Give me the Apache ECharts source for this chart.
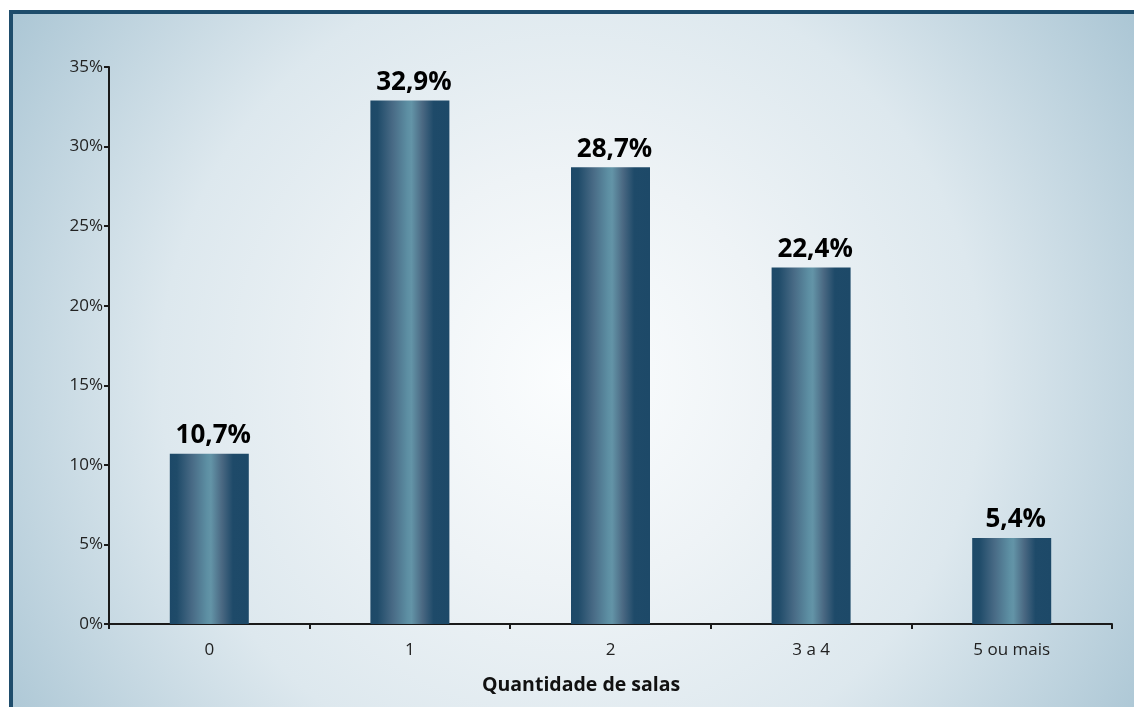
<!DOCTYPE html>
<html>
<head>
<meta charset="utf-8">
<script src="https://cdn.jsdelivr.net/npm/echarts@6/dist/echarts.min.js"></script>
<style>
  html, body { margin: 0; padding: 0; width: 1134px; height: 707px; overflow: hidden; background: #ffffff; }
  #frame {
    position: absolute; left: 9px; top: 10px; width: 1140px; height: 710px;
    border-top: 4px solid #1f4d6c; border-left: 4px solid #1f4d6c;
    background: radial-gradient(circle farthest-corner at 49% 51%, #fbfdfe 0%, #eef3f6 30%, #dde8ee 60%, #a8c4d3 100%);
  }
  #chart { position: absolute; left: 0; top: 0; width: 1134px; height: 707px; }
</style>
</head>
<body>
<div id="frame"></div>
<div id="chart"></div>
<script>
// Share of units by number of rooms
const categories = ['0', '1', '2', '3 a 4', '5 ou mais'];
const shares = [10.7, 32.9, 28.7, 22.4, 5.4];
const axisTitle = 'Quantidade de salas';

const barFill = new echarts.graphic.LinearGradient(0, 0, 1, 0, [
  { offset: 0.00, color: '#1d4968' },
  { offset: 0.09, color: '#1f4b69' },
  { offset: 0.28, color: '#486a85' },
  { offset: 0.47, color: '#5d8fa3' },
  { offset: 0.52, color: '#6394a7' },
  { offset: 0.66, color: '#4a6882' },
  { offset: 0.80, color: '#1e4a69' },
  { offset: 1.00, color: '#1d4968' }
]);

const fmt = v => String(v).replace('.', ',') + '%';

const chart = echarts.init(document.getElementById('chart'), null, { renderer: 'canvas' });
chart.setOption({
  backgroundColor: 'transparent',
  animation: false,
  textStyle: { fontFamily: '"Open Sans", "Noto Sans", sans-serif' },
  title: {
    text: axisTitle,
    left: 477, top: 670,
    textStyle: { fontSize: 19.5, fontWeight: 'bold', color: '#111', fontFamily: '"Open Sans", sans-serif' }
  },
  grid: { left: 109, right: 22, top: 67, bottom: 83, containLabel: false },
  xAxis: {
    type: 'category',
    data: categories,
    axisLine: { lineStyle: { color: '#1a1a1a', width: 2 } },
    axisTick: { show: true, length: 5, lineStyle: { color: '#1a1a1a', width: 2 } },
    axisLabel: { color: '#222', fontSize: 17, margin: 18 }
  },
  yAxis: {
    type: 'value',
    min: 0, max: 35, interval: 5,
    splitLine: { show: false },
    axisLine: { show: true, lineStyle: { color: '#1a1a1a', width: 2 } },
    axisTick: { show: true, length: 5, lineStyle: { color: '#1a1a1a', width: 2 } },
    axisLabel: { color: '#222', fontSize: 17, margin: 6, formatter: '{value}%' }
  },
  series: [{
    type: 'bar',
    data: shares,
    barWidth: 79,
    itemStyle: { color: barFill },
    label: {
      show: true, position: 'top', distance: 5, offset: [4, 0],
      formatter: p => fmt(p.value),
      color: '#000', fontSize: 26, fontWeight: 'bold',
      fontFamily: '"Open Sans", sans-serif'
    }
  }]
});
</script>
</body>
</html>
